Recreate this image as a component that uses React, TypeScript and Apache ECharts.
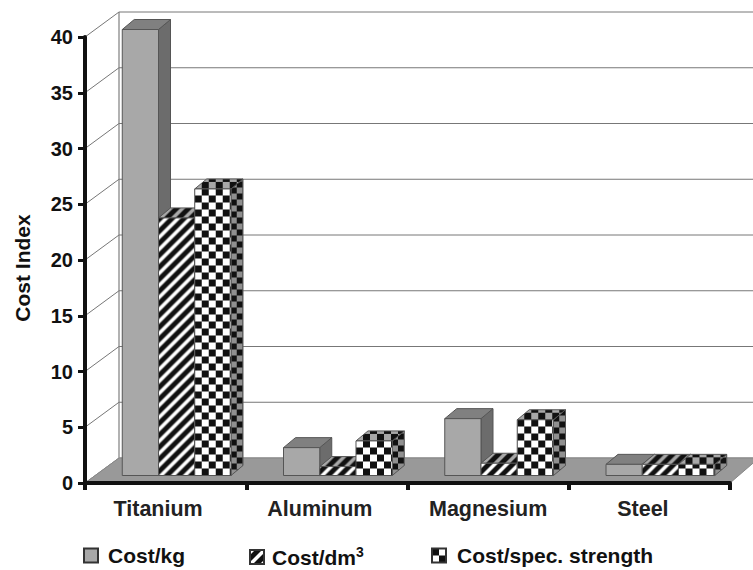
import React, { useEffect, useRef } from "react";
import * as echarts from "echarts";

const categories = ["Titanium", "Aluminum", "Magnesium", "Steel"];
const categoryLabelShift = [15, 14, 0, 13];
const costPerKg = [40, 2.5, 5.1, 1];
const costPerDm3 = [23.1, 0.8, 1.1, 1];
const costPerStrength = [25.7, 3.1, 5, 1];
const yTicks = [0, 5, 10, 15, 20, 25, 30, 35, 40];
const seriesNames = ["Cost/kg", "Cost/dm3", "Cost/spec. strength"];

const FONT = '"Liberation Sans", Arial, sans-serif';
const WALL_DX = 34;
const WALL_DY = -25;
const BAR_DX = 11;
const BAR_DY = -7.5;
const DEPTH_X = 12;
const DEPTH_Y = -10;
const EDGE = "#555";

function checkerTile(a: string, b: string, cell: number) {
  const c = document.createElement("canvas");
  c.width = c.height = cell * 2;
  const g = c.getContext("2d")!;
  g.fillStyle = a;
  g.fillRect(0, 0, cell * 2, cell * 2);
  g.fillStyle = b;
  g.fillRect(0, 0, cell, cell);
  g.fillRect(cell, cell, cell, cell);
  return c;
}

function hatchTile(bg: string, stripe: string, p: number) {
  const c = document.createElement("canvas");
  c.width = c.height = p;
  const g = c.getContext("2d")!;
  g.fillStyle = bg;
  g.fillRect(0, 0, p, p);
  g.fillStyle = stripe;
  const w = p * 0.42;
  for (const o of [-p, 0, p]) {
    g.beginPath();
    g.moveTo(o, p);
    g.lineTo(o + p, 0);
    g.lineTo(o + p + w, 0);
    g.lineTo(o + w, p);
    g.closePath();
    g.fill();
  }
  return c;
}

function pat(image: HTMLCanvasElement) {
  return { image, repeat: "repeat" } as any;
}

function face(pts: number[][], fill: any, x = 0, y = 0) {
  return {
    type: "polygon",
    x,
    y,
    shape: { points: pts },
    style: { fill, stroke: EDGE, lineWidth: 1 },
    silent: true,
  };
}

export default function App() {
  const ref = useRef<HTMLDivElement>(null);
  useEffect(() => {
    document.body.style.margin = "0";
    const chart = echarts.init(ref.current!, undefined, { renderer: "svg" });

    const styles = [
      { front: "#a8a8a8", top: "#808080", side: "#6c6c6c" },
      {
        front: pat(hatchTile("#111", "#fff", 12)),
        top: pat(hatchTile("#111", "#a8a8a8", 12)),
        side: pat(hatchTile("#111", "#a8a8a8", 12)),
      },
      {
        front: pat(checkerTile("#fff", "#111", 7)),
        top: pat(checkerTile("#a8a8a8", "#111", 7)),
        side: pat(checkerTile("#909090", "#111", 6)),
      },
    ];

    const barSeries = (idx: number, values: number[]) => ({
      type: "custom",
      name: seriesNames[idx],
      coordinateSystem: "cartesian2d",
      z: 5,
      itemStyle: { color: styles[idx].front, borderColor: "#333", borderWidth: 1 },
      data: values.map((v, i) => [i, v]),
      renderItem: (_p: any, api: any) => {
        const c = api.coord([api.value(0), api.value(1)]);
        const base = api.coord([api.value(0), 0]);
        const w = api.size([1, 0])[0] * 0.2248;
        const x = c[0] + BAR_DX + (idx - 1.5) * w;
        const yb = base[1] + BAR_DY;
        const h = yb - (c[1] + BAR_DY);
        const s = styles[idx];
        return {
          type: "group",
          children: [
            face(
              [
                [w, 0],
                [w + DEPTH_X, DEPTH_Y],
                [w + DEPTH_X, -h + DEPTH_Y],
                [w, -h],
              ],
              s.side,
              x,
              yb
            ),
            face(
              [
                [0, 0],
                [w, 0],
                [w + DEPTH_X, DEPTH_Y],
                [DEPTH_X, DEPTH_Y],
              ],
              s.top,
              x,
              yb - h
            ),
            face(
              [
                [0, 0],
                [w, 0],
                [w, -h],
                [0, -h],
              ],
              s.front,
              x,
              yb
            ),
          ],
        };
      },
    });

    const legendText = (pad: number) => ({
      fontFamily: FONT,
      fontWeight: "bold",
      fontSize: 21,
      color: "#111",
      padding: [0, 0, 0, pad],
      rich: {
        sup: { fontFamily: FONT, fontWeight: "bold", fontSize: 14, padding: [0, 0, 10, 0], color: "#111" },
      },
    });
    const legendBase = {
      orient: "horizontal",
      icon: "rect",
      padding: 0,
      itemWidth: 14,
      itemHeight: 14,
      top: 545,
      selectedMode: false,
      formatter: (n: string) => (n === "Cost/dm3" ? "Cost/dm{sup|3}" : n),
    };

    chart.setOption({
      animation: false,
      backgroundColor: "#fff",
      tooltip: { show: false },
      legend: [
        { ...legendBase, left: 83, textStyle: legendText(5), data: [seriesNames[0]] },
        { ...legendBase, left: 249, textStyle: legendText(3), data: [seriesNames[1]] },
        { ...legendBase, left: 431, textStyle: legendText(6), data: [seriesNames[2]] },
      ],
      grid: { left: 85, right: 23, top: 37, height: 446, containLabel: false },
      xAxis: {
        type: "category",
        data: categories.map((value, i) => ({
          value,
          textStyle: { padding: [0, categoryLabelShift[i], 0, 0] },
        })),
        z: 10,
        axisLine: { lineStyle: { color: "#111", width: 4 } },
        axisTick: { show: true, length: 7, alignWithLabel: false, lineStyle: { color: "#111", width: 4 } },
        axisLabel: { margin: 15, fontFamily: FONT, fontWeight: "bold", fontSize: 21.5, color: "#222" },
      },
      yAxis: {
        type: "value",
        min: 0,
        max: 40,
        interval: 5,
        z: 10,
        name: "Cost Index",
        nameLocation: "middle",
        nameGap: 52,
        nameTextStyle: {
          fontFamily: FONT,
          fontWeight: "bold",
          fontSize: 21,
          color: "#111",
          padding: [0, 16, 0, 0],
        },
        splitLine: { show: false },
        axisLine: { show: true, lineStyle: { color: "#111", width: 4 } },
        axisTick: { show: true, length: 7, lineStyle: { color: "#111", width: 3 } },
        axisLabel: { margin: 12, fontFamily: FONT, fontWeight: "bold", fontSize: 20, color: "#111" },
      },
      series: [
        {
          type: "custom",
          name: "walls",
          coordinateSystem: "cartesian2d",
          z: 1,
          silent: true,
          data: yTicks.map((t) => [0, t]),
          renderItem: (_p: any, api: any) => {
            const v = api.value(1);
            const p = api.coord([0, v]);
            const x0 = api.coord([0, 0])[0] - api.size([1, 0])[0] / 2;
            const W = api.getWidth();
            const gridColor = "#777";
            const children: any[] = [
              {
                type: "polyline",
                shape: {
                  points: [
                    [x0, p[1]],
                    [x0 + WALL_DX, p[1] + WALL_DY],
                    [W, p[1] + WALL_DY],
                  ],
                },
                style: { fill: "none", stroke: gridColor, lineWidth: 1 },
              },
            ];
            if (v === 0) {
              const top = api.coord([0, 40])[1] + WALL_DY;
              children.push({
                type: "line",
                shape: { x1: x0 + WALL_DX, y1: top, x2: x0 + WALL_DX, y2: p[1] + WALL_DY },
                style: { stroke: "#999", lineWidth: 1.5 },
              });
            }
            return { type: "group", children };
          },
        },
        {
          type: "custom",
          name: "floor",
          coordinateSystem: "cartesian2d",
          z: 2,
          silent: true,
          data: [[0, 0]],
          renderItem: (_p: any, api: any) => {
            const p = api.coord([0, 0]);
            const cw = api.size([1, 0])[0];
            const x0 = p[0] - cw / 2;
            const x1 = x0 + cw * categories.length;
            return {
              type: "polygon",
              shape: {
                points: [
                  [x0, p[1]],
                  [x0 + WALL_DX, p[1] + WALL_DY],
                  [x1 + 29, p[1] + WALL_DY],
                  [x1, p[1]],
                ],
              },
              style: { fill: "#999", stroke: "#888", lineWidth: 1 },
            };
          },
        },
        barSeries(0, costPerKg),
        barSeries(1, costPerDm3),
        barSeries(2, costPerStrength),
      ],
    });
    return () => chart.dispose();
  }, []);
  return <div ref={ref} style={{ width: 753, height: 570 }} />;
}
